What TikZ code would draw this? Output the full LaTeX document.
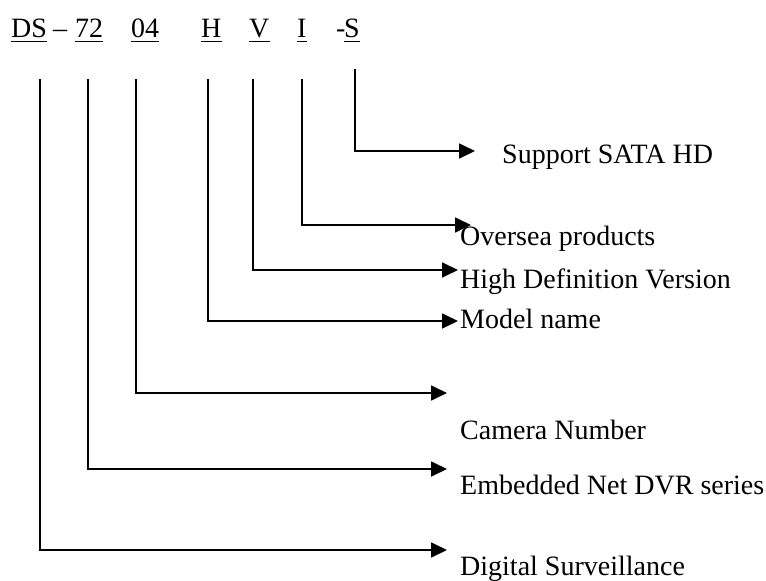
\documentclass[tikz,border=0pt]{standalone}
\usepackage{fontspec}
\setmainfont{Liberation Serif}
\usetikzlibrary{arrows.meta}
\begin{document}
\begin{tikzpicture}[x=1pt,y=-1pt,
  hdr/.style={anchor=base west,inner sep=0pt,font=\fontsize{28}{30}\selectfont},
  lbl/.style={anchor=base west,inner sep=0pt,font=\fontsize{28}{30}\selectfont},
  ul/.style={line width=1.6pt},
  conn/.style={line width=1.8pt,-{Triangle[length=16pt,width=15pt]}}]
\useasboundingbox (0,0) rectangle (766,581);
% header
\node[hdr] (ds) at (11,37) {DS};
\node[hdr] (dash) at (53,37) {–};
\node[hdr] (n72) at (75,37) {72};
\node[hdr] (n04) at (131,37) {04};
\node[hdr] (h) at (201,37) {H};
\node[hdr] (v) at (249,37) {V};
\node[hdr] (i) at (297,37) {I};
\node[hdr] (hy) at (336,37) {-};
\node[hdr] (s) at (344,37) {S};
\foreach \n in {ds,n72,n04,h,v,i,s}
  \draw[ul] ([yshift=-4.5pt]\n.base west) -- ([yshift=-4.5pt]\n.base east);
% labels
\node[lbl] (lS) at (502,163) {Support SATA HD};
\node[lbl] (lI) at (460,245) {Oversea products};
\node[lbl] (lV) at (460,288) {High Definition Version};
\node[lbl] (lH) at (460,328) {Model name};
\node[lbl] (l04) at (460,439) {Camera Number};
\node[lbl] (l72) at (460,494) {Embedded Net DVR series};
\node[lbl] (lDS) at (460,575) {Digital Surveillance};
% connector start and end points
\coordinate (aS) at (355,69);  \coordinate (bS) at (475,151);
\coordinate (aI) at (302,79);  \coordinate (bI) at (471,225);
\coordinate (aV) at (253,79);  \coordinate (bV) at (458,270);
\coordinate (aH) at (208,79);  \coordinate (bH) at (458,321);
\coordinate (a04) at (136,79); \coordinate (b04) at (447,393);
\coordinate (a72) at (88,79);  \coordinate (b72) at (447,469);
\coordinate (aDS) at (40,79);  \coordinate (bDS) at (447,550);
\foreach \k in {S,I,V,H,04,72,DS}
  \draw[conn] (a\k) |- (b\k);
\end{tikzpicture}
\end{document}
